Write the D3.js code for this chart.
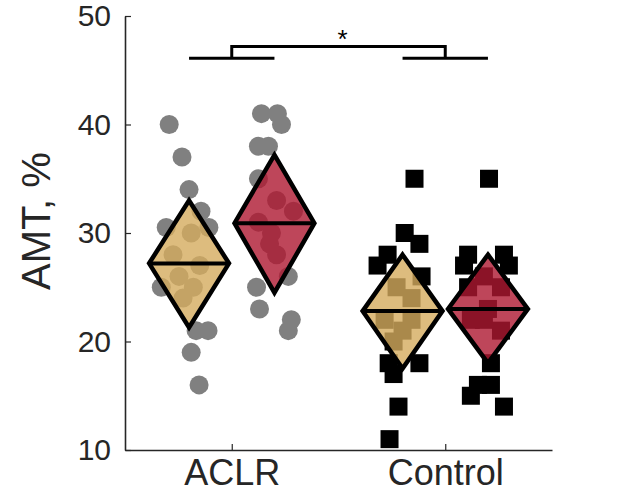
<!DOCTYPE html>
<html>
<head>
<meta charset="utf-8">
<script src="https://cdn.jsdelivr.net/npm/d3@7"></script>
<style>
  body { margin: 0; background: #fff; }
  text { font-family: "Liberation Sans", Arial, Helvetica, sans-serif; }
</style>
</head>
<body>
<svg id="chart" width="636" height="496"></svg>
<script>
// ---- data -------------------------------------------------------------
const groups = ["ACLR", "Control"];
const yTicks = [10, 20, 30, 40, 50];
const yLabel = "AMT, %";

// individual participants: value and horizontal jitter (axis units)
const aclrPre       = [40, 37, 34, 32, 30.5, 30.5, 30, 28, 27, 26, 25, 25, 24, 21, 21, 19, 16];
const aclrPreJit    = [-0.093, -0.033, 0, 0.056, -0.107, 0.093, 0.01, -0.075, 0.05, -0.047, 0.02, -0.13, -0.028, 0.033, 0.089, 0.01, 0.047];
const aclrPost      = [41, 41, 40, 38, 38, 35, 33, 32, 31, 30, 29, 28, 26, 25, 23, 22, 21];
const aclrPostJit   = [-0.061, 0.014, 0.033, -0.075, -0.028, -0.075, 0.01, 0.089, -0.075, -0.014, -0.023, 0.01, 0.065, -0.084, -0.07, 0.079, 0.065];
const ctrlPre       = [35, 30, 29, 28, 27, 26, 25, 24, 22, 22, 21, 20, 18, 18, 17, 14, 11];
const ctrlPreJit    = [0.056, 0.01, 0.079, -0.07, -0.117, 0.089, -0.028, 0.042, -0.084, 0.042, 0, -0.042, -0.065, 0.079, -0.042, -0.019, -0.061];
const ctrlPost      = [35, 28, 28, 27, 27, 26, 25, 25, 23, 22, 22, 21, 18, 16, 16, 15, 14];
const ctrlPostJit   = [0.005, -0.093, 0.075, -0.112, 0.098, -0.019, -0.093, 0.061, 0, -0.019, -0.08, 0.061, 0.014, -0.047, 0.014, -0.08, 0.075];

// group summaries (mean with lower / upper bound), order: ACLR pre, ACLR post, Control pre, Control post
const summaryMean = [27.2, 30.9, 22.8, 23.0];
const summaryLow  = [21.3, 24.5, 17.5, 18.0];
const summaryHigh = [33.0, 37.2, 28.0, 28.0];

// significance bracket between groups
const sigLevel = 46.1;
const sigTop = 47.2;
const sigText = "*";

// ---- layout -----------------------------------------------------------
const svg = d3.select("#chart");
const x = d3.scaleLinear().domain([0.5, 2.5]).range([125, 552]);
const y = d3.scaleLinear().domain([10, 50]).range([450, 16]);

const condOffset = [-0.2, 0.2];
const diamondHalf = 0.187;
const fills = ["#d4ab5e", "#ae1831"];
const inkColor = "#262626";

const series = [
  { g: 0, c: 0, vals: aclrPre,  jit: aclrPreJit,  shape: "circle" },
  { g: 0, c: 1, vals: aclrPost, jit: aclrPostJit, shape: "circle" },
  { g: 1, c: 0, vals: ctrlPre,  jit: ctrlPreJit,  shape: "square" },
  { g: 1, c: 1, vals: ctrlPost, jit: ctrlPostJit, shape: "square" }
];
const cx = s => s.g + 1 + condOffset[s.c];

// ---- individual points ------------------------------------------------
const pts = svg.append("g");
series.forEach(s => {
  const data = s.vals.map((v, i) => ({ v, xv: cx(s) + s.jit[i] }));
  if (s.shape === "circle") {
    pts.selectAll(null).data(data).enter().append("circle")
      .attr("cx", d => x(d.xv)).attr("cy", d => y(d.v))
      .attr("r", 9.5).attr("fill", "#808080");
  } else {
    const sz = 18;
    pts.selectAll(null).data(data).enter().append("rect")
      .attr("x", d => x(d.xv) - sz / 2).attr("y", d => y(d.v) - sz / 2)
      .attr("width", sz).attr("height", sz).attr("fill", "#000");
  }
});

// ---- summary diamonds -------------------------------------------------
const dia = svg.append("g");
series.forEach((s, i) => {
  const c = cx(s);
  const m = summaryMean[i], lo = summaryLow[i], hi = summaryHigh[i];
  const path = d3.path();
  path.moveTo(x(c), y(hi));
  path.lineTo(x(c + diamondHalf), y(m));
  path.lineTo(x(c), y(lo));
  path.lineTo(x(c - diamondHalf), y(m));
  path.closePath();
  dia.append("path").attr("d", path.toString())
    .attr("fill", fills[s.c]).attr("fill-opacity", 0.8)
    .attr("stroke", "#000").attr("stroke-width", 4.5).attr("stroke-linejoin", "miter");
  dia.append("line")
    .attr("x1", x(c - diamondHalf)).attr("x2", x(c + diamondHalf))
    .attr("y1", y(m)).attr("y2", y(m))
    .attr("stroke", "#000").attr("stroke-width", 4);
});

// ---- axes -------------------------------------------------------------
const yAxis = svg.append("g").attr("transform", `translate(${x(0.5)},0)`)
  .call(d3.axisLeft(y).tickValues(yTicks).tickSize(-6).tickSizeOuter(0).tickPadding(14));
const xAxis = svg.append("g").attr("transform", `translate(0,${y(10)})`)
  .call(d3.axisBottom(x).tickValues([1, 2]).tickFormat((d, i) => groups[i])
    .tickSize(-6).tickSizeOuter(0).tickPadding(9));

[yAxis, xAxis].forEach(a => {
  a.select(".domain").attr("stroke", inkColor).attr("stroke-width", 1.6);
  a.selectAll(".tick line").attr("stroke", inkColor).attr("stroke-width", 1.2);
  a.selectAll(".tick text").attr("fill", inkColor)
    .style("font-family", '"Liberation Sans", Arial, sans-serif').style("font-size", "30px");
});
xAxis.selectAll(".tick text").style("font-size", "36px");

svg.append("text")
  .attr("transform", `translate(50,${(y(10) + y(50)) / 2 - 12}) rotate(-90)`)
  .attr("text-anchor", "middle").attr("fill", inkColor)
  .style("font-size", "40px").text(yLabel);

// ---- significance bracket ---------------------------------------------
const br = svg.append("g").attr("stroke", "#000").attr("stroke-width", 3).attr("fill", "none");
[0, 1].forEach(g => {
  br.append("line")
    .attr("x1", x(g + 1 + condOffset[0])).attr("x2", x(g + 1 + condOffset[1]))
    .attr("y1", y(sigLevel)).attr("y2", y(sigLevel));
});
br.append("path").attr("d", d3.line()([
  [x(1), y(sigLevel)], [x(1), y(sigTop)], [x(2), y(sigTop)], [x(2), y(sigLevel)]
]));
svg.append("text").attr("x", x(1.5) + 4).attr("y", 48)
  .attr("text-anchor", "middle").attr("fill", "#000")
  .style("font-size", "26px").text(sigText);
</script>
</body>
</html>
